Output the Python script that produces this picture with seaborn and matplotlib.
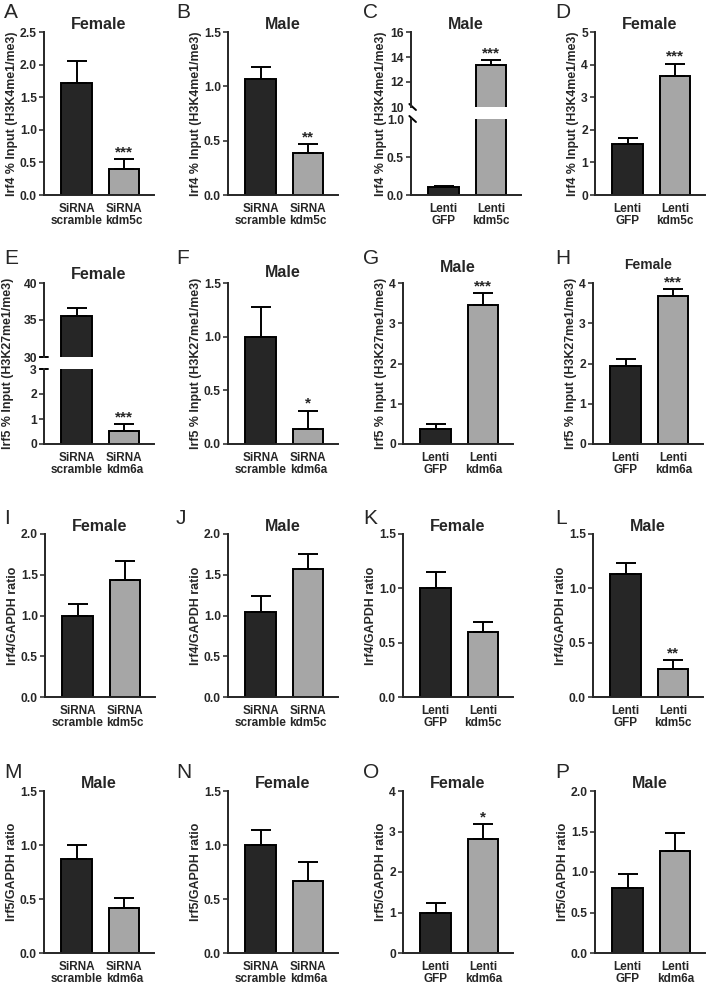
import numpy as np
import pandas as pd
import seaborn as sns
import matplotlib.pyplot as plt
from matplotlib.ticker import FormatStrFormatter

sns.set_style("ticks")
plt.rcParams["font.family"] = ["Liberation Sans", "DejaVu Sans"]
plt.rcParams["font.weight"] = "bold"

##################################
# Data
##################################
sirna_kdm5c = ["SiRNA\nscramble", "SiRNA\nkdm5c"]
sirna_kdm6a = ["SiRNA\nscramble", "SiRNA\nkdm6a"]
lenti_kdm5c = ["Lenti\nGFP", "Lenti\nkdm5c"]
lenti_kdm6a = ["Lenti\nGFP", "Lenti\nkdm6a"]

ylab_k4 = "Irf4 % Input (H3K4me1/me3)"
ylab_k27 = "Irf5 % Input (H3K27me1/me3)"
ylab_irf4 = "Irf4/GAPDH ratio"
ylab_irf5 = "Irf5/GAPDH ratio"

mean_A, sem_A = [1.72, 0.40], [0.34, 0.15]
mean_B, sem_B = [1.07, 0.39], [0.11, 0.08]
mean_C, sem_C = [0.10, 13.35], [0.02, 0.42]
mean_D, sem_D = [1.57, 3.64], [0.17, 0.39]
mean_E, sem_E = [35.5, 0.53], [1.1, 0.28]
mean_F, sem_F = [1.00, 0.14], [0.28, 0.17]
mean_G, sem_G = [0.37, 3.46], [0.13, 0.28]
mean_H, sem_H = [1.93, 3.67], [0.18, 0.17]
mean_I, sem_I = [1.00, 1.44], [0.14, 0.23]
mean_J, sem_J = [1.04, 1.57], [0.20, 0.19]
mean_K, sem_K = [1.00, 0.60], [0.15, 0.09]
mean_L, sem_L = [1.13, 0.26], [0.10, 0.08]
mean_M, sem_M = [0.87, 0.42], [0.13, 0.09]
mean_N, sem_N = [1.00, 0.67], [0.14, 0.17]
mean_O, sem_O = [1.00, 2.82], [0.23, 0.36]
mean_P, sem_P = [0.80, 1.26], [0.18, 0.22]

DARK = "#262626"
GREY = "#a6a6a6"
W, H = 709, 984


##################################
# Plotting helpers
##################################
def px_axes(fig, left, top, bottom, width=110):
    """add axes from pixel coordinates (origin top-left)"""
    return fig.add_axes([left / W, 1 - bottom / H, width / W, (bottom - top) / H])


def draw_bars(ax, groups, means, sems, stars):
    df = pd.DataFrame({"group": groups, "value": means})
    sns.barplot(
        data=df,
        x="group",
        y="value",
        hue="group",
        palette=[DARK, GREY],
        dodge=False,
        width=0.63,
        edgecolor="black",
        linewidth=1.4,
        errorbar=None,
        legend=False,
        ax=ax,
    )
    ax.errorbar(
        range(len(means)),
        means,
        yerr=[np.zeros(len(sems)), sems],
        fmt="none",
        ecolor="black",
        elinewidth=1.4,
        capsize=7,
        capthick=1.4,
        zorder=1,
    )
    for i, s in enumerate(stars):
        if s:
            ax.annotate(
                s,
                xy=(i, means[i] + sems[i]),
                xytext=(0, 2),
                textcoords="offset points",
                ha="center",
                va="baseline",
                fontsize=11,
                fontweight="bold",
            )
    ax.set_xlim(-0.68, 1.62)
    ax.set_xlabel("")
    ax.set_ylabel("")
    sns.despine(ax=ax)
    for sp in ["left", "bottom"]:
        ax.spines[sp].set_linewidth(1.4)
    ax.tick_params(axis="y", length=3.6, width=1.1, pad=1.5, labelsize=8.7)
    ax.tick_params(axis="x", length=0, pad=5.5, labelsize=8.5)
    for lab in ax.get_xticklabels():
        lab.set_linespacing(1.05)
        lab.set_fontweight("bold")


def simple_panel(fig, left, top, bottom, groups, means, sems, stars, title,
                 ylabel, yticks, fmt, tpad=2, tsize=11.5):
    ax = px_axes(fig, left, top, bottom)
    draw_bars(ax, groups, means, sems, stars)
    ax.set_ylim(yticks[0], yticks[-1])
    ax.set_yticks(yticks)
    ax.yaxis.set_major_formatter(FormatStrFormatter(fmt))
    ax.set_title(title, fontsize=tsize, fontweight="bold", pad=tpad)
    ax.set_ylabel(ylabel, fontsize=8.9, fontweight="bold", labelpad=1.5)
    return ax


def broken_panel(fig, left, top, mid_top, mid_bottom, bottom, groups, means,
                 sems, stars, title, ylabel, up_ticks, up_fmt, low_ticks,
                 low_fmt, label_x, mark="slash", tpad=2):
    ax_up = px_axes(fig, left, top, mid_top)
    ax_lo = px_axes(fig, left, mid_bottom, bottom)
    for ax in [ax_up, ax_lo]:
        draw_bars(ax, groups, means, sems, stars)
    ax_up.set_ylim(up_ticks[0], up_ticks[-1])
    ax_up.set_yticks(up_ticks)
    ax_up.yaxis.set_major_formatter(FormatStrFormatter(up_fmt))
    ax_up.spines["bottom"].set_visible(False)
    ax_up.set_xticks([])
    ax_lo.set_ylim(low_ticks[0], low_ticks[-1])
    ax_lo.set_yticks(low_ticks)
    ax_lo.yaxis.set_major_formatter(FormatStrFormatter(low_fmt))
    ax_up.set_title(title, fontsize=11.5, fontweight="bold", pad=tpad)
    # break marks on the y axis
    if mark == "slash":
        ax_up.yaxis.get_major_ticks()[0].tick1line.set_visible(False)
        ax_lo.yaxis.get_major_ticks()[-1].tick1line.set_visible(False)
        for ax, y0 in [(ax_up, 0), (ax_lo, 1)]:
            h = 6 / ((ax.get_position().height) * H)
            ax.plot([-0.015, 0.045], [y0 + h / 2, y0 - h / 2], color="black",
                    lw=1.4, transform=ax.transAxes, clip_on=False)
    else:
        for ax, y0 in [(ax_up, 0), (ax_lo, 1)]:
            ax.plot([-0.035, 0.035], [y0, y0], color="black", lw=1.4,
                    transform=ax.transAxes, clip_on=False)
    ax_lo.set_ylabel(ylabel, fontsize=8.9, fontweight="bold")
    mid = (top + bottom) / 2
    ax_lo.yaxis.set_label_coords(label_x, (bottom - mid) / (bottom - mid_bottom))
    return ax_up, ax_lo


##################################
# Figure
##################################
fig = plt.figure(figsize=(W / 100, H / 100), dpi=100)

r1, r2, r3, r4 = (32, 195), (283, 444), (534, 697), (791, 953)
dec5 = [0, 0.5, 1.0, 1.5]

# row 1
simple_panel(fig, 44, *r1, sirna_kdm5c, mean_A, sem_A, ["", "***"], "Female",
             ylab_k4, [0, 0.5, 1.0, 1.5, 2.0, 2.5], "%.1f", tpad=0.5)
simple_panel(fig, 228, *r1, sirna_kdm5c, mean_B, sem_B, ["", "**"], "Male",
             ylab_k4, dec5, "%.1f", tpad=1)
broken_panel(fig, 411, 32, 107, 119, 195, lenti_kdm5c, mean_C, sem_C,
             ["", "***"], "Male", ylab_k4, [10, 12, 14, 16], "%d",
             [0, 0.5, 1.0], "%.1f", -0.22, mark="slash", tpad=0.5)
simple_panel(fig, 595, *r1, lenti_kdm5c, mean_D, sem_D, ["", "***"], "Female",
             ylab_k4, [0, 1, 2, 3, 4, 5], "%d", tpad=0.5)

# row 2
broken_panel(fig, 44, 283, 357, 369, 444, sirna_kdm6a, mean_E, sem_E,
             ["", "***"], "Female", ylab_k27, [30, 35, 40], "%d",
             [0, 1, 2, 3], "%d", -0.27, mark="bar", tpad=3)
simple_panel(fig, 228, *r2, sirna_kdm6a, mean_F, sem_F, ["", "*"], "Male",
             ylab_k27, dec5, "%.1f", tpad=4)
simple_panel(fig, 403, *r2, lenti_kdm6a, mean_G, sem_G, ["", "***"], "Male",
             ylab_k27, [0, 1, 2, 3, 4], "%d", tpad=8)
simple_panel(fig, 593, *r2, lenti_kdm6a, mean_H, sem_H, ["", "***"], "Female",
             ylab_k27, [0, 1, 2, 3, 4], "%d", tpad=10, tsize=10)

# row 3
simple_panel(fig, 45, *r3, sirna_kdm5c, mean_I, sem_I, ["", ""], "Female",
             ylab_irf4, [0, 0.5, 1.0, 1.5, 2.0], "%.1f", tpad=1.5)
simple_panel(fig, 228, *r3, sirna_kdm5c, mean_J, sem_J, ["", ""], "Male",
             ylab_irf4, [0, 0.5, 1.0, 1.5, 2.0], "%.1f", tpad=1.5)
simple_panel(fig, 403, *r3, lenti_kdm5c, mean_K, sem_K, ["", ""], "Female",
             ylab_irf4, dec5, "%.1f", tpad=1.5)
simple_panel(fig, 593, *r3, lenti_kdm5c, mean_L, sem_L, ["", "**"], "Male",
             ylab_irf4, dec5, "%.1f", tpad=1.5)

# row 4
simple_panel(fig, 44, *r4, sirna_kdm6a, mean_M, sem_M, ["", ""], "Male",
             ylab_irf5, dec5, "%.1f", tpad=2)
simple_panel(fig, 228, *r4, sirna_kdm6a, mean_N, sem_N, ["", ""], "Female",
             ylab_irf5, dec5, "%.1f", tpad=2)
simple_panel(fig, 403, *r4, lenti_kdm6a, mean_O, sem_O, ["", "*"], "Female",
             ylab_irf5, [0, 1, 2, 3, 4], "%d", tpad=2)
simple_panel(fig, 595, *r4, lenti_kdm6a, mean_P, sem_P, ["", ""], "Male",
             ylab_irf5, [0, 0.5, 1.0, 1.5, 2.0], "%.1f", tpad=2)

# panel letters
letters = "ABCDEFGHIJKLMNOP"
letter_x = [4, 176, 363, 555]
letter_y = [3, 249, 509, 763]
for k, let in enumerate(letters):
    row, col = divmod(k, 4)
    fig.text(letter_x[col] / W, 1 - letter_y[row] / H, let, fontsize=15,
             fontweight="normal", ha="left", va="top")

plt.savefig("out.png", dpi=100)
